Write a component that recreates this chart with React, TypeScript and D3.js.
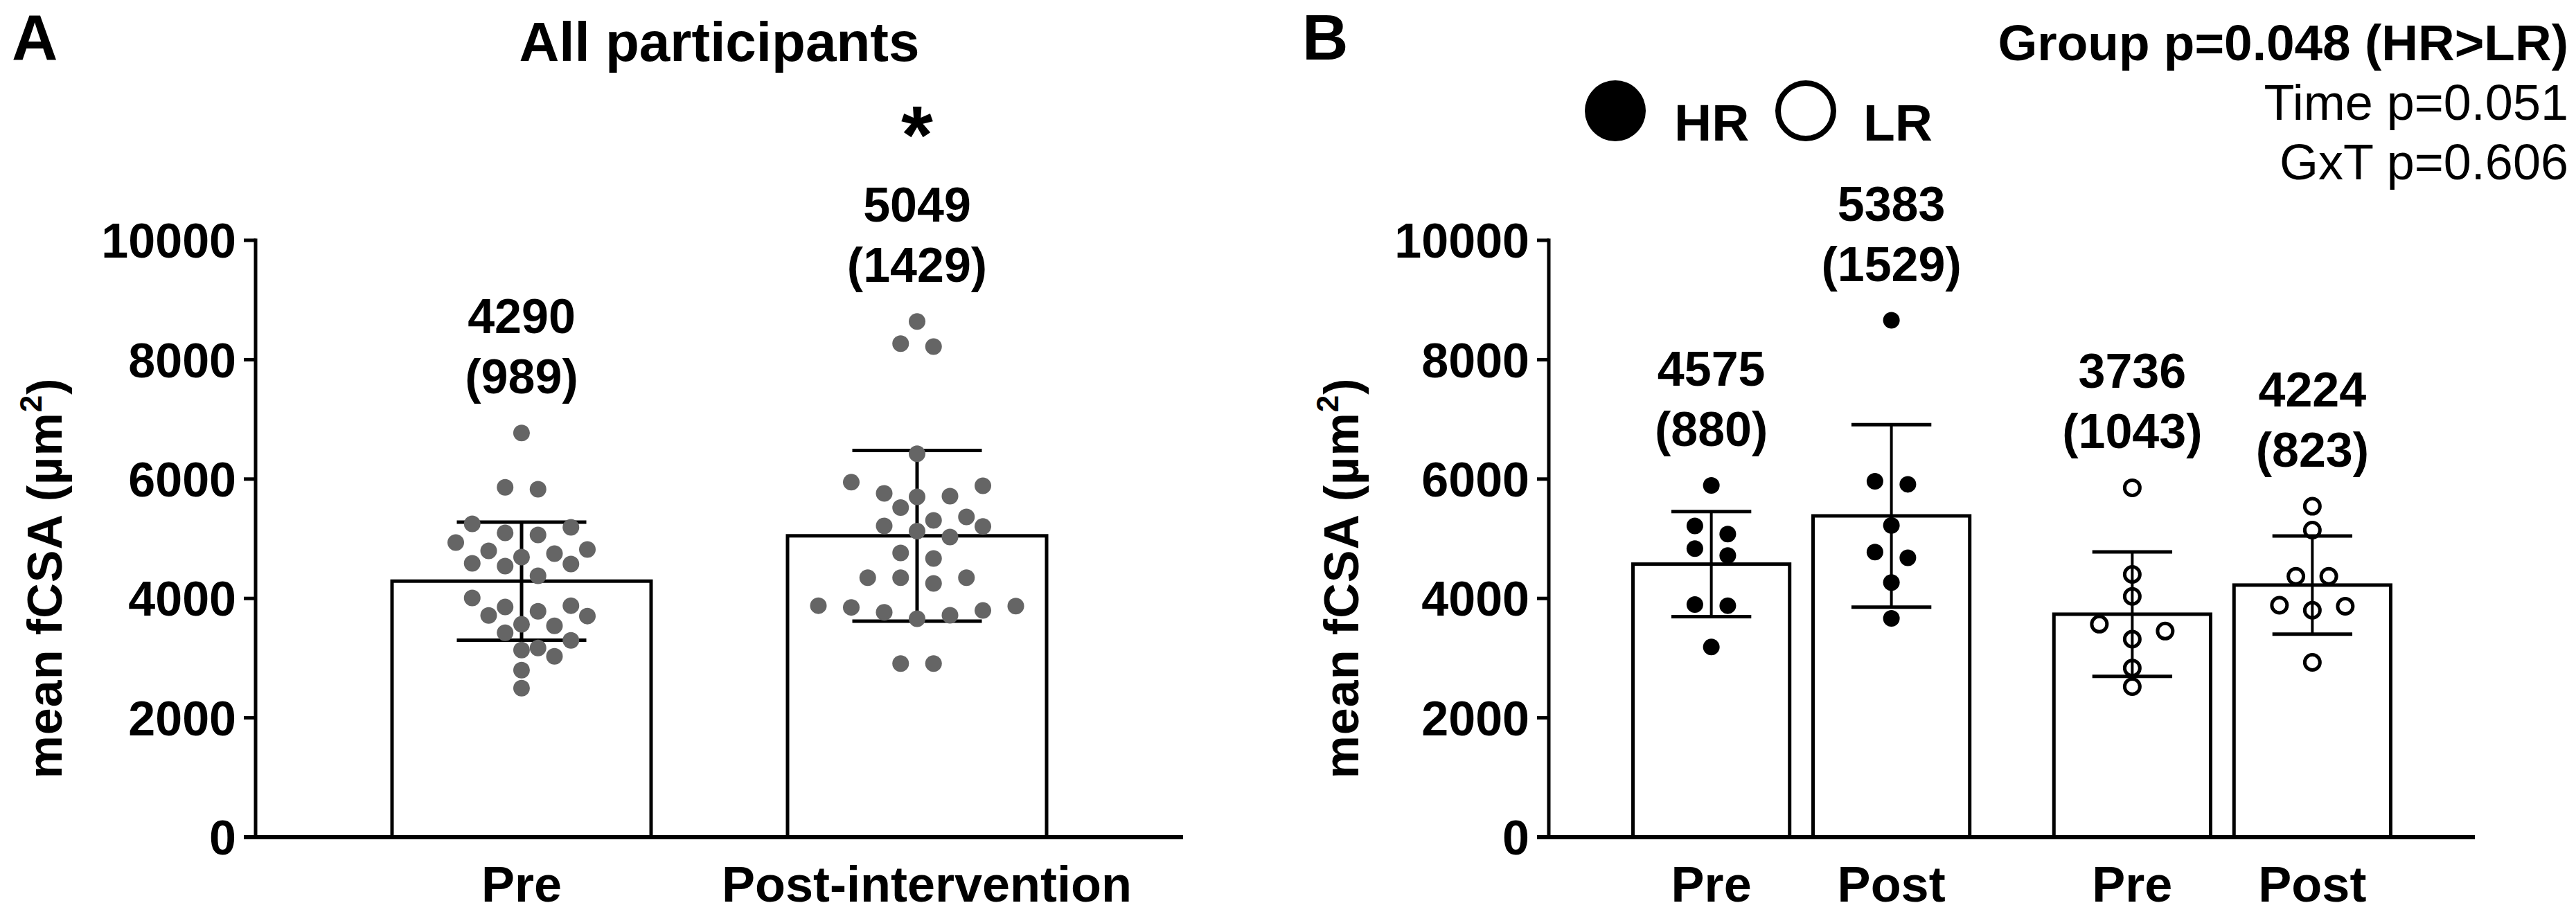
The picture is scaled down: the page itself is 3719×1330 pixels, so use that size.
import React from 'react'
import * as d3 from 'd3'

const W = 3719
const H = 1330
const FONT = '"Liberation Sans", Arial, Helvetica, sans-serif'

const yTicks = [0, 2000, 4000, 6000, 8000, 10000]

// Panel A - all participants
const allCategories = ['Pre', 'Post-intervention']
const allPre = [6771, 5862, 5830, 5250, 5192, 5099, 5064, 4936, 4820, 4797, 4750, 4692, 4588, 4576, 4541, 4379,
  4007, 3879, 3856, 3786, 3716, 3705, 3566, 3542, 3426, 3298, 3171, 3136, 3031, 2799, 2497]
const allPost = [8641, 8269, 8218, 6423, 5947, 5888, 5761, 5714, 5703, 5521, 5366, 5308, 5215, 5207, 5128, 5029,
  4762, 4669, 4348, 4348, 4348, 4251, 3879, 3871, 3850, 3798, 3768, 3717, 3659, 2908, 2908]
const allMeans = [4290, 5049]
const allSDs = [989, 1429]

// Panel B - high / low responders
const riskGroups = ['HR', 'LR']
const timePoints = ['Pre', 'Post']
const hrPre = [5892, 5215, 5079, 4835, 4719, 3899, 3879, 3186]
const hrPost = [8660, 5962, 5912, 5223, 4777, 4681, 4266, 3667]
const lrPre = [5854, 4402, 4034, 3569, 3453, 3318, 2834, 2524]
const lrPost = [5544, 5145, 4371, 4371, 3887, 3868, 3802, 2930]
const riskMeans = [[4575, 5383], [3736, 4224]]
const riskSDs = [[880, 1529], [1043, 823]]
const statLines = ['Group p=0.048 (HR>LR)', 'Time p=0.051', 'GxT p=0.606']

const y = d3.scaleLinear().domain([0, 10000]).range([1209, 347])

const R = 12
const COL = 47.5

// prism-like column scatter: rows of nearby values, centred, shifted if they collide
function swarm(values: number[]) {
  const sorted = [...values].sort((a, b) => b - a)
  const rows: number[][] = []
  sorted.forEach(v => {
    const row = rows[rows.length - 1]
    if (row && y(v) - y(row[0]) < 2 * R) row.push(v)
    else rows.push([v])
  })
  const placed: { v: number; dx: number }[] = []
  rows.forEach(row => {
    const n = row.length
    const slots = d3.range(n).map(i => i - (n - 1) / 2)
      .sort((a, b) => Math.abs(b) - Math.abs(a) || a - b)
    const fits = (s: number) => row.every((v, i) =>
      placed.every(p => Math.hypot((slots[i] + s - p.dx / COL) * COL, y(v) - y(p.v)) >= 2 * R - 1))
    const s = [0, 0.5, -0.5, 1, -1, 1.5, -1.5].find(fits) ?? 0
    row.forEach((v, i) => placed.push({ v, dx: (slots[i] + s) * COL }))
  })
  return placed
}

const YAxis = ({ x0, x1, titleX }: { x0: number; x1: number; titleX: number }) => (
  <g>
    {yTicks.map(t => (
      <g key={t}>
        <line x1={x0 - 17} x2={x0} y1={y(t)} y2={y(t)} stroke="#000" strokeWidth={5} />
        <text x={x0 - 28} y={y(t)} dy="0.36em" textAnchor="end" fontSize={70} fontWeight="bold">{t}</text>
      </g>
    ))}
    <line x1={x0} x2={x0} y1={y(10000) - 2.5} y2={y(0)} stroke="#000" strokeWidth={5} />
    <line x1={x0 - 17} x2={x1} y1={y(0)} y2={y(0)} stroke="#000" strokeWidth={6} />
    <text transform={`translate(${titleX},835) rotate(-90)`} textAnchor="middle"
      fontSize={70} fontWeight="bold" letterSpacing={1}>
      mean fCSA (µm<tspan fontSize={44} dy={-29}>2</tspan><tspan dy={29}>)</tspan>
    </text>
  </g>
)

interface BarProps {
  x: number
  w: number
  mean: number
  sd: number
  pts: number[]
  kind: 'gray' | 'filled' | 'open'
  capW: number
}

const Bar = ({ x, w, mean, sd, pts, kind, capW }: BarProps) => {
  const cx = x + w / 2
  const sw = swarm(pts)
  const sdBase = y(d3.max(pts) as number) - R - 45
  return (
    <g>
      <rect x={x} y={y(mean)} width={w} height={y(0) - y(mean)} fill="#fff" stroke="#000" strokeWidth={5} />
      <line x1={cx} x2={cx} y1={y(mean + sd)} y2={y(mean - sd)} stroke="#000" strokeWidth={kind === 'gray' ? 5 : 4} />
      {[mean + sd, mean - sd].map((v, i) => (
        <line key={i} x1={cx - capW / 2} x2={cx + capW / 2} y1={y(v)} y2={y(v)} stroke="#000" strokeWidth={5} />
      ))}
      {sw.map((p, i) => kind === 'open'
        ? <circle key={i} cx={cx + p.dx} cy={y(p.v)} r={11} fill="none" stroke="#000" strokeWidth={5} />
        : <circle key={i} cx={cx + p.dx} cy={y(p.v)} r={R} fill={kind === 'gray' ? '#656565' : '#000'} />)}
      <text x={cx} y={sdBase - 87} textAnchor="middle" fontSize={70} fontWeight="bold">{mean}</text>
      <text x={cx} y={sdBase} textAnchor="middle" fontSize={70} fontWeight="bold">({sd})</text>
    </g>
  )
}

export default function App() {
  const xA = d3.scaleBand().domain(allCategories).range([369, 1708]).paddingInner(0.345).paddingOuter(0.345)
  const xB = d3.scaleBand().domain(riskGroups).range([2236, 3573]).paddingInner(0.2).paddingOuter(0.2)
  const xT = d3.scaleBand().domain(timePoints).range([0, xB.bandwidth()]).paddingInner(0.13)
  const ptsA = [allPre, allPost]
  const ptsB = [[hrPre, hrPost], [lrPre, lrPost]]
  const postX = (xA(allCategories[1]) as number) + xA.bandwidth() / 2

  return (
    <svg width={W} height={H} style={{ position: 'absolute', left: 0, top: 0, display: 'block' }}
      fontFamily={FONT} fill="#000">
      <rect width={W} height={H} fill="#fff" />

      {/* Panel A */}
      <text x={17} y={86} fontSize={92} fontWeight="bold">A</text>
      <text x={(369 + 1708) / 2} y={88} textAnchor="middle" fontSize={80} fontWeight="bold">All participants</text>
      {allCategories.map((c, i) => (
        <Bar key={c} x={xA(c) as number} w={xA.bandwidth()} mean={allMeans[i]} sd={allSDs[i]} pts={ptsA[i]}
          kind="gray" capW={xA.bandwidth() * 0.5} />
      ))}
      <text x={postX} y={y(d3.max(allPost) as number) - R - 45 - 87 - 84} textAnchor="middle"
        fontSize={118} fontWeight="bold">*</text>
      <YAxis x0={369} x1={1708} titleX={89} />
      {allCategories.map((c, i) => (
        <text key={c} x={(xA(c) as number) + xA.bandwidth() / 2 + (i === 1 ? 14 : 0)} y={1302} textAnchor="middle"
          fontSize={72} fontWeight="bold">{c}</text>
      ))}

      {/* Panel B */}
      <text x={1880} y={86} fontSize={92} fontWeight="bold">B</text>
      <circle cx={2332} cy={160} r={44} fill="#000" />
      <text x={2417} y={203} fontSize={75} fontWeight="bold">{riskGroups[0]}</text>
      <circle cx={2607} cy={160} r={40} fill="none" stroke="#000" strokeWidth={8} />
      <text x={2690} y={203} fontSize={75} fontWeight="bold">{riskGroups[1]}</text>
      {statLines.map((s, i) => (
        <text key={s} x={3708} y={87 + i * 86} textAnchor="end" fontSize={i === 0 ? 73 : 72}
          fontWeight={i === 0 ? 'bold' : 'normal'}>{s}</text>
      ))}
      {riskGroups.map((g, gi) => timePoints.map((t, ti) => (
        <Bar key={g + t} x={(xB(g) as number) + (xT(t) as number)} w={xT.bandwidth()} mean={riskMeans[gi][ti]}
          sd={riskSDs[gi][ti]} pts={ptsB[gi][ti]} kind={gi === 0 ? 'filled' : 'open'} capW={xT.bandwidth() * 0.51} />
      )))}
      <YAxis x0={2236} x1={3573} titleX={1961} />
      {riskGroups.map(g => timePoints.map(t => (
        <text key={g + t} x={(xB(g) as number) + (xT(t) as number) + xT.bandwidth() / 2} y={1302}
          textAnchor="middle" fontSize={72} fontWeight="bold">{t}</text>
      )))}
    </svg>
  )
}
